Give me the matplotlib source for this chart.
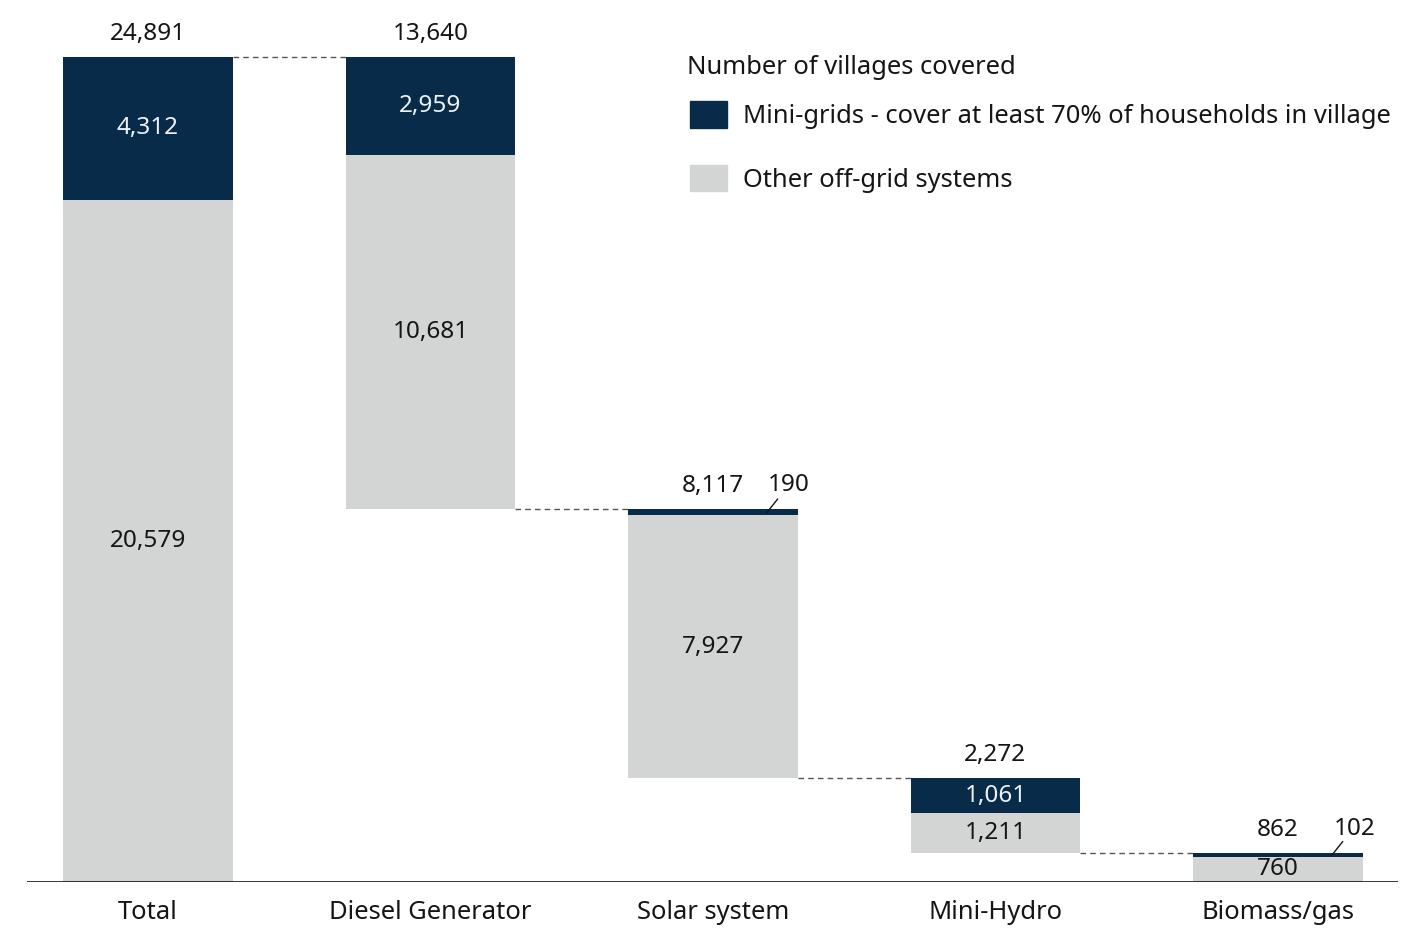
import matplotlib
matplotlib.use("Agg")
import matplotlib.pyplot as plt
from matplotlib.patches import Patch

# data
categories = ["Total", "Diesel Generator", "Solar system", "Mini-Hydro", "Biomass/gas"]
mini_grids = [4312, 2959, 190, 1061, 102]
other_offgrid = [20579, 10681, 7927, 1211, 760]
totals = [24891, 13640, 8117, 2272, 862]

NAVY = "#072b48"
GREY = "#d3d5d4"
INK = "#151515"

plt.rcParams["font.family"] = ["Noto Sans", "DejaVu Sans"]

fig = plt.figure(figsize=(14.02, 9.30), dpi=100)
ax = fig.add_axes([27 / 1402, 48 / 930, 1371 / 1402, 882 / 930])

# waterfall bottoms: total starts at 0, each part hangs below the previous one
bottoms = [0]
level = totals[0]
for t in totals[1:]:
    level -= t
    bottoms.append(level)

x = list(range(len(categories)))
w = 0.6
ax.bar(x, other_offgrid, width=w, bottom=bottoms, color=GREY, linewidth=0)
mg_bottom = [b + o for b, o in zip(bottoms, other_offgrid)]
ax.bar(x, mini_grids, width=w, bottom=mg_bottom, color=NAVY, linewidth=0)

# dashed connectors
for i in range(len(x) - 1):
    yl = totals[0] if i == 0 else bottoms[i]
    ax.plot([x[i] + w / 2, x[i + 1] - w / 2], [yl, yl], color="#555555",
            lw=1, ls=(0, (4, 3)))

fs = 17.5   # numbers
fs_txt = 18.4   # words
for i in x:
    top = bottoms[i] + totals[i]
    ax.annotate(f"{totals[i]:,}", (i, top), xytext=(0, 8), textcoords="offset points",
                ha="center", va="bottom", fontsize=fs, color=INK)
    # grey part label
    ax.text(i, bottoms[i] + other_offgrid[i] / 2, f"{other_offgrid[i]:,}",
            ha="center", va="center", fontsize=fs, color=INK)
    # navy part label
    if mini_grids[i] > 500:
        ax.text(i, mg_bottom[i] + mini_grids[i] / 2, f"{mini_grids[i]:,}",
                ha="center", va="center", fontsize=fs, color="#eef1f4")
    else:
        # small segment: label outside with a short leader line
        ax.annotate(f"{mini_grids[i]:,}", (i + 0.27, top), xytext=(0, 9),
                    textcoords="offset points", ha="center", va="bottom",
                    fontsize=fs, color=INK)
        ax.annotate("", (i + 0.19, mg_bottom[i] + mini_grids[i] * 0.4),
                    xytext=(8, 10), textcoords="offset points",
                    arrowprops=dict(arrowstyle="-", color=INK, lw=1,
                                    shrinkA=0, shrinkB=0))

ax.axhline(0, color=INK, lw=1.2)
ax.set_xlim(-0.428, 4.425)
ax.set_ylim(0, totals[0] * 882 / 825)
ax.set_xticks(x)
ax.set_xticklabels(categories, fontsize=fs_txt, color=INK)
ax.tick_params(axis="x", length=0, pad=13)
ax.set_yticks([])
for s in ax.spines.values():
    s.set_visible(False)

fig.text(687 / 1402, 1 - 67 / 930, "Number of villages covered", ha="left",
         va="center", fontsize=fs_txt, color=INK)
handles = [Patch(color=NAVY, label="Mini-grids - cover at least 70% of households in village"),
           Patch(color=GREY, label="Other off-grid systems")]
ax.legend(handles=handles, loc="upper left",
          bbox_to_anchor=(690 / 1402, 1 - 101 / 930), bbox_transform=fig.transFigure,
          frameon=False, fontsize=fs_txt, handlelength=1.45, handleheight=1.22,
          labelspacing=1.4, handletextpad=0.62, borderaxespad=0, borderpad=0,
          labelcolor=INK)

fig.savefig("out.png", dpi=100)
